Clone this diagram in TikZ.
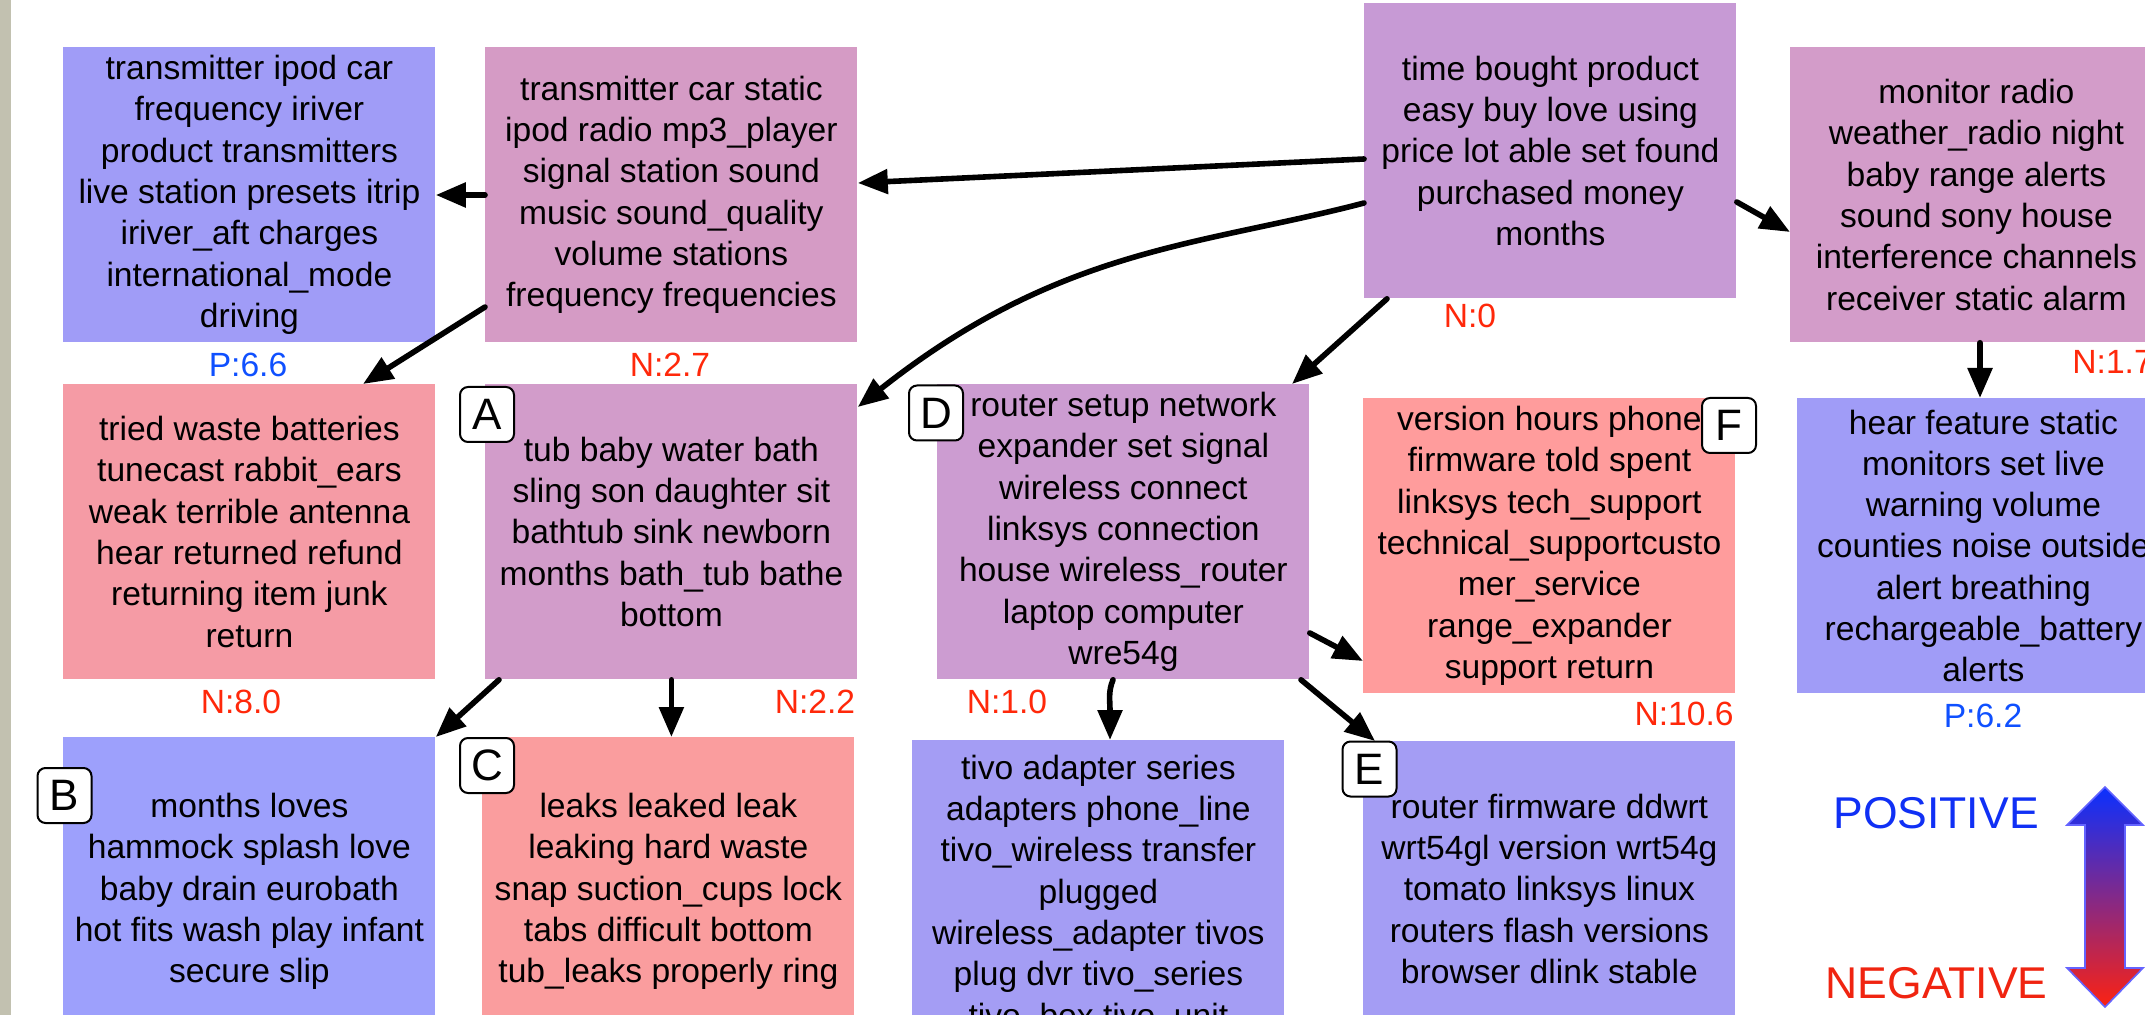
\documentclass[tikz,border=0pt]{standalone}
\usepackage{fontspec}
\setmainfont{Liberation Sans}
\usetikzlibrary{arrows.meta}
\definecolor{cbar}{RGB}{194,193,176}
\definecolor{cblueA}{RGB}{160,156,247}
\definecolor{cblueB}{RGB}{157,160,252}
\definecolor{cblueC}{RGB}{164,157,244}
\definecolor{cpinkA}{RGB}{213,155,197}
\definecolor{croot}{RGB}{199,154,213}
\definecolor{cmon}{RGB}{211,156,201}
\definecolor{ctub}{RGB}{210,156,202}
\definecolor{crouter}{RGB}{204,156,209}
\definecolor{credA}{RGB}{245,155,165}
\definecolor{credB}{RGB}{255,156,156}
\definecolor{credC}{RGB}{250,157,158}
\definecolor{nred}{RGB}{255,40,10}
\definecolor{pblue}{RGB}{15,80,255}
\definecolor{legblue}{RGB}{16,48,245}
\definecolor{legred}{RGB}{240,36,16}
\definecolor{arrtop}{RGB}{10,48,255}
\definecolor{arrmid}{RGB}{112,38,170}
\definecolor{arrbot}{RGB}{252,34,18}
\definecolor{arredge}{RGB}{100,100,255}
\begin{document}
\begin{tikzpicture}[x=0.5pt,y=-0.5pt,
  topic/.style={anchor=north west, minimum width=186pt, minimum height=147.5pt,
    inner sep=0pt, align=center, text=black,
    font=\fontsize{16.8pt}{20.65pt}\selectfont},
  lowtopic/.style={topic, minimum height=154pt},
  tag/.style={draw=black, line width=1pt, fill=white, rounded corners=4pt,
    minimum width=27pt, minimum height=27.5pt, inner sep=0pt,
    font=\fontsize{22pt}{22pt}\selectfont},
  score/.style={inner sep=0pt, font=\fontsize{16.8pt}{16.8pt}\selectfont},
  negscore/.style={score, text=nred},
  posscore/.style={score, text=pblue},
  arr/.style={line width=2.8pt, line cap=round, -{Triangle[length=15pt,width=12pt]}},
  legend/.style={inner sep=0pt, font=\fontsize{22.25pt}{22.25pt}\selectfont},
]
\useasboundingbox (0,0) rectangle (2145,1015);
\fill[white] (0,0) rectangle (2145,1015);
\fill[cbar] (0,0) rectangle (11,1015);

% topic boxes
\node[topic, fill=cblueA] (b1) at (63,47) {transmitter ipod car\\frequency iriver\\product transmitters\\live station presets itrip\\iriver\_aft charges\\international\_mode\\driving};
\node[topic, fill=cpinkA] (b2) at (485,47) {transmitter car static\\ipod radio mp3\_player\\signal station sound\\music sound\_quality\\volume stations\\frequency frequencies};
\node[topic, fill=croot] (root) at (1364,3) {time bought product\\easy buy love using\\price lot able set found\\purchased money\\months};
\node[topic, fill=cmon] (mon) at (1790,47) {monitor radio\\weather\_radio night\\baby range alerts\\sound sony house\\interference channels\\receiver static alarm};
\node[topic, fill=credA] (tried) at (63,384) {tried waste batteries\\tunecast rabbit\_ears\\weak terrible antenna\\hear returned refund\\returning item junk\\return};
\node[topic, fill=ctub] (tub) at (485,384) {tub baby water bath\\sling son daughter sit\\bathtub sink newborn\\months bath\_tub bathe\\bottom};
\node[topic, fill=crouter] (router) at (937,384) {router setup network\\expander set signal\\wireless connect\\linksys connection\\house wireless\_router\\laptop computer\\wre54g};
\node[topic, fill=credB] (bF) at (1363,398) {version hours phone\\firmware told spent\\linksys tech\_support\\technical\_supportcusto\\mer\_service\\range\_expander\\support return};
\node[topic, fill=cblueA] (hear) at (1797,398) {hear feature static\\monitors set live\\warning volume\\counties noise outside\\alert breathing\\rechargeable\_battery\\alerts};
\node[lowtopic, fill=cblueB] (bB) at (63,737) {months loves\\hammock splash love\\baby drain eurobath\\hot fits wash play infant\\secure slip};
\node[lowtopic, fill=credC] (bC) at (482,737) {leaks leaked leak\\leaking hard waste\\snap suction\_cups lock\\tabs difficult bottom\\tub\_leaks properly ring};
\node[lowtopic, fill=cblueC] (tivo) at (912,740) {tivo adapter series\\adapters phone\_line\\tivo\_wireless transfer\\plugged\\wireless\_adapter tivos\\plug dvr tivo\_series\\tivo\_box tivo\_unit};
\node[topic, fill=cblueC] (bE) at (1363,741) {router firmware ddwrt\\wrt54gl version wrt54g\\tomato linksys linux\\routers flash versions\\browser dlink stable};

% scores
\node[posscore] (s66) at (248,365) {P:6.6};
\node[negscore] (s27) at (670,365) {N:2.7};
\node[negscore] (s0) at (1470,316) {N:0};
\node[negscore, anchor=west] (s17) at (2072,362) {N:1.7};
\node[negscore] (s80) at (241,702) {N:8.0};
\node[negscore] (s22) at (815,702) {N:2.2};
\node[negscore] (s10) at (1007,702) {N:1.0};
\node[negscore, anchor=east] (s106) at (1734,714) {N:10.6};
\node[posscore] (s62) at (1983,716) {P:6.2};

% connectors
\draw[arr] (root.west |- 0,159) -- (b2.east |- 0,183);
\draw[arr] (root.west |- 0,203) .. controls (1200,246) and (1060,247) .. (tub.east |- 0,407);
\draw[arr] (root.south -| 1387,0) -- (router.north -| 1292,0);
\draw[arr] (root.east |- 0,202) -- (mon.west |- 0,232);
\draw[arr] (b2.west |- 0,195) -- (b1.east |- 0,195);
\draw[arr] (b2.west |- 0,307) -- (tried.north -| 363,0);
\draw[arr] (tub.south -| 499,0) -- (bB.north east);
\draw[arr] (tub.south) -- (tub.south |- bC.north);
\draw[arr] (router.south -| 1113,0) .. controls (1108,692) and (1110,700) .. (tivo.north -| 1110,0);
\draw[arr] (router.south -| 1301,0) -- (bE.north -| 1375,0);
\draw[arr] (router.east |- 0,633) -- (bF.west |- 0,661);
\draw[arr] (mon.south -| 1980,0) -- (hear.north -| 1980,0);

% tags
\node[tag] (tA) at (487,414.5) {A};
\node[tag] (tB) at (64.5,795.5) {B};
\node[tag] (tC) at (487,765.5) {C};
\node[tag] (tD) at (936,413) {D};
\node[tag] (tE) at (1369.5,769) {E};
\node[tag] (tF) at (1729,425.5) {F};

% legend
\node[legend, text=legblue] (lpos) at (1936,813) {POSITIVE};
\node[legend, text=legred] (lneg) at (1936.5,983) {NEGATIVE};
\path[draw=arredge, line width=0.8pt, top color=arrtop, middle color=arrmid, bottom color=arrbot]
  (2105,787) -- (2143,825) -- (2125,825) -- (2125,968) -- (2143,968) -- (2105,1007)
  -- (2067,968) -- (2085,968) -- (2085,825) -- (2067,825) -- cycle;
\end{tikzpicture}
\end{document}
